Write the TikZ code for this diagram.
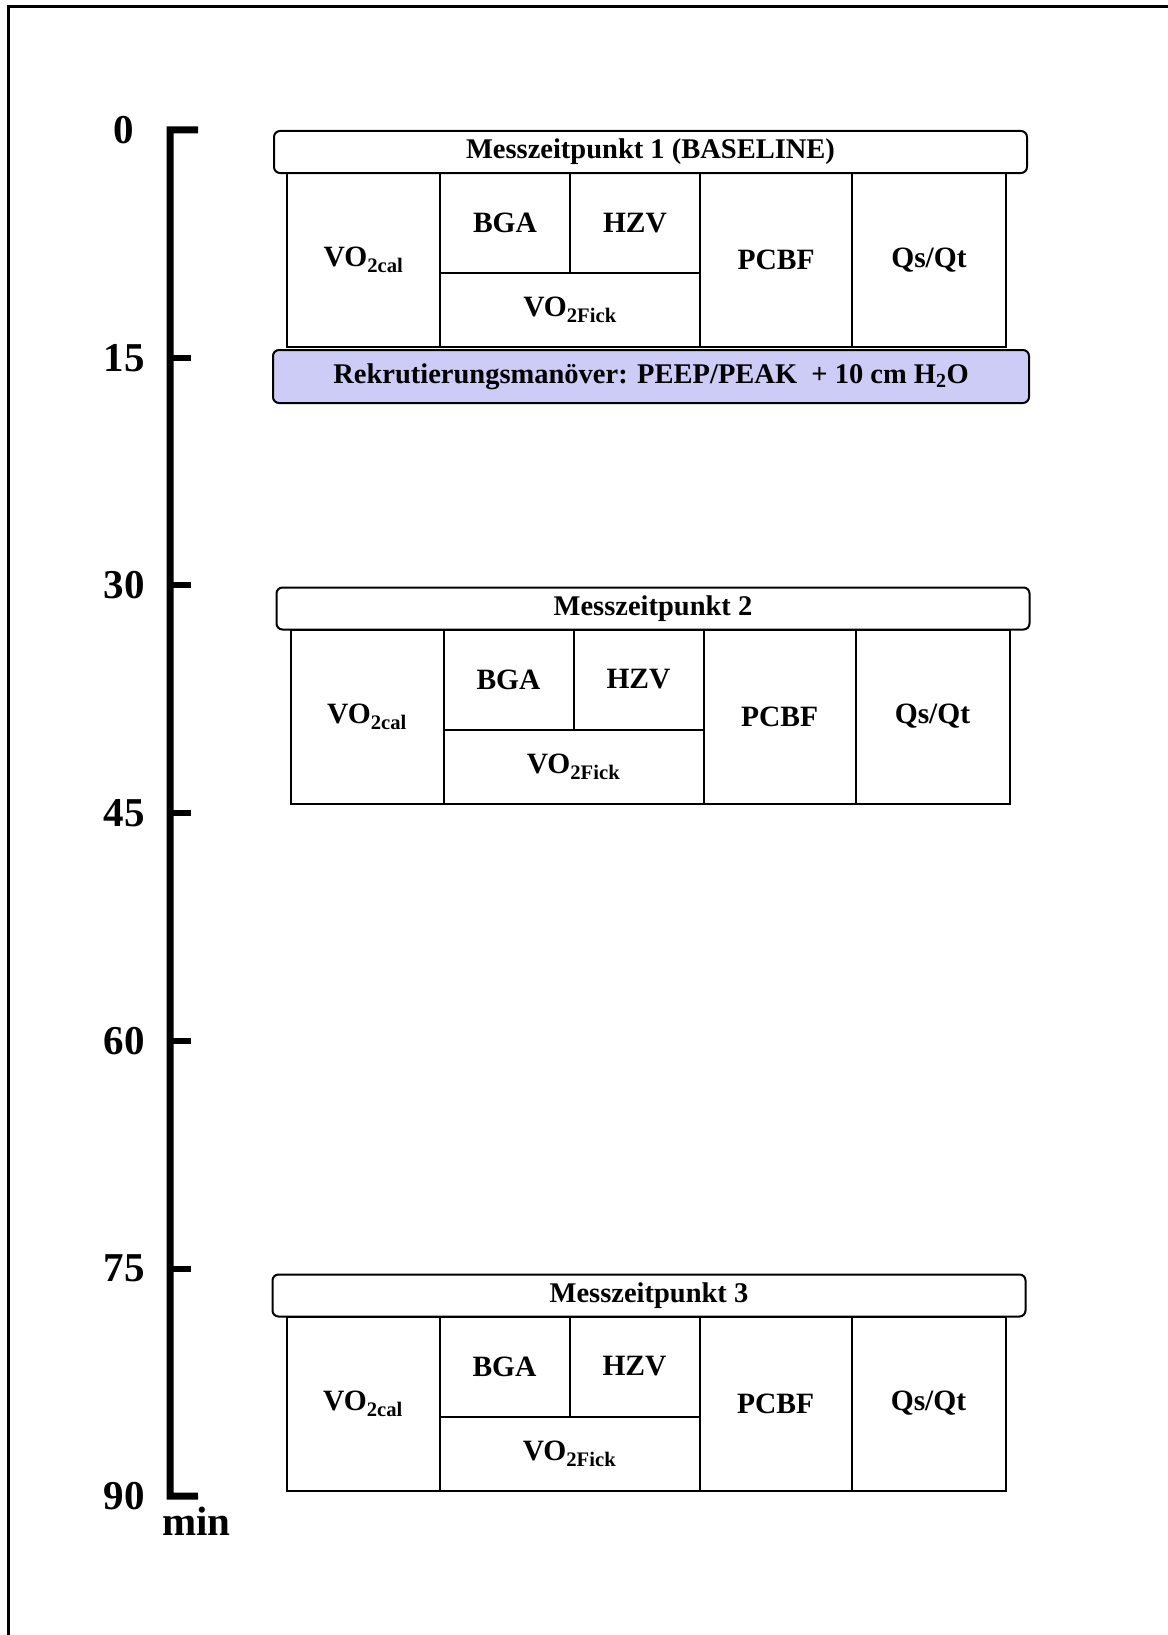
\documentclass[tikz,border=0pt]{standalone}
\usepackage{fontspec}
\setmainfont{Liberation Serif}
\usepackage{tikz}
\usetikzlibrary{positioning}

\definecolor{rmblue}{RGB}{204,204,246}
\newcommand{\headfont}{\fontsize{28.5}{32}\selectfont\bfseries}
\newcommand{\cellfont}{\fontsize{29.5}{34}\selectfont\bfseries}
\newcommand{\axisfont}{\fontsize{41}{46}\selectfont\bfseries}

\begin{document}
\begin{tikzpicture}[x=1pt, y=-1pt,
  head/.style={draw, fill=white, line width=2pt, rounded corners=6pt, minimum width=753pt, minimum height=42pt, inner sep=0pt, outer sep=0pt, font=\headfont},
  recbox/.style={head, fill=rmblue, minimum width=756pt, minimum height=53pt},
  cell/.style={draw, line width=2pt, inner sep=0pt, outer sep=0pt, font=\cellfont},
  tall/.style={minimum height=174pt},
  upper/.style={minimum height=100pt},
  lower/.style={minimum height=74pt},
  axis/.style={line width=7pt, line join=miter},
  ticklabel/.style={inner sep=0pt, font=\axisfont}]
  \useasboundingbox (0,0) rectangle (1167,1635);

  % frame (only top and left edge are visible)
  \draw[line width=3pt] (8.5,1640) -- (8.5,7) -- (1170,7);

  % time axis
  \coordinate (e0) at (198,130);
  \coordinate (e90) at (198,1496);
  \foreach \m [count=\k from 0] in {0,15,30,45,60,75,90} {
    \coordinate (a\m) at (170,{130+227.7*\k});
    \coordinate (b\m) at (191,{130+227.7*\k});
    \node (l\m) [ticklabel] at (124,{130+227.7*\k}) {\m};
  }
  \draw[axis] (e0) -- (a0) -- (a90) -- (e90);
  \foreach \m in {15,30,45,60,75}
    \draw[axis, line width=6pt] (a\m) -- (b\m);
  \node (unit) [ticklabel, anchor=west] at (162,1521) {min};

  % Messzeitpunkt 1
  \node (m1) [head] at (650.5,152) {Messzeitpunkt 1 (BASELINE)};
  \node (cal1) [cell, tall, minimum width=153pt, below right=0pt and 13pt of m1.south west] {VO\textsubscript{2cal}};
  \node (bga1) [cell, upper, minimum width=130pt, below right=0pt of cal1.north east] {BGA};
  \node (hzv1) [cell, upper, minimum width=130pt, below right=0pt of bga1.north east] {HZV};
  \node (fick1) [cell, lower, minimum width=260pt, below right=0pt of bga1.south west] {VO\textsubscript{2Fick}};
  \node (pcbf1) [cell, tall, minimum width=152pt, below right=0pt of hzv1.north east] {PCBF};
  \node (qs1) [cell, tall, minimum width=154pt, below right=0pt of pcbf1.north east] {Qs/Qt};
  \node (rm) [recbox] at (651,376.5) {Rekrutierungsmanöver: PEEP/PEAK\ \ + 10 cm H\textsubscript{2}O};

  % Messzeitpunkt 2
  \node (m2) [head] at (653,608.5) {Messzeitpunkt 2};
  \node (cal2) [cell, tall, minimum width=153pt, below right=0pt and 14pt of m2.south west] {VO\textsubscript{2cal}};
  \node (bga2) [cell, upper, minimum width=130pt, below right=0pt of cal2.north east] {BGA};
  \node (hzv2) [cell, upper, minimum width=130pt, below right=0pt of bga2.north east] {HZV};
  \node (fick2) [cell, lower, minimum width=260pt, below right=0pt of bga2.south west] {VO\textsubscript{2Fick}};
  \node (pcbf2) [cell, tall, minimum width=152pt, below right=0pt of hzv2.north east] {PCBF};
  \node (qs2) [cell, tall, minimum width=154pt, below right=0pt of pcbf2.north east] {Qs/Qt};

  % Messzeitpunkt 3
  \node (m3) [head] at (649,1295.5) {Messzeitpunkt 3};
  \node (cal3) [cell, tall, minimum width=153pt, below right=0pt and 14pt of m3.south west] {VO\textsubscript{2cal}};
  \node (bga3) [cell, upper, minimum width=130pt, below right=0pt of cal3.north east] {BGA};
  \node (hzv3) [cell, upper, minimum width=130pt, below right=0pt of bga3.north east] {HZV};
  \node (fick3) [cell, lower, minimum width=260pt, below right=0pt of bga3.south west] {VO\textsubscript{2Fick}};
  \node (pcbf3) [cell, tall, minimum width=152pt, below right=0pt of hzv3.north east] {PCBF};
  \node (qs3) [cell, tall, minimum width=154pt, below right=0pt of pcbf3.north east] {Qs/Qt};
\end{tikzpicture}
\end{document}
